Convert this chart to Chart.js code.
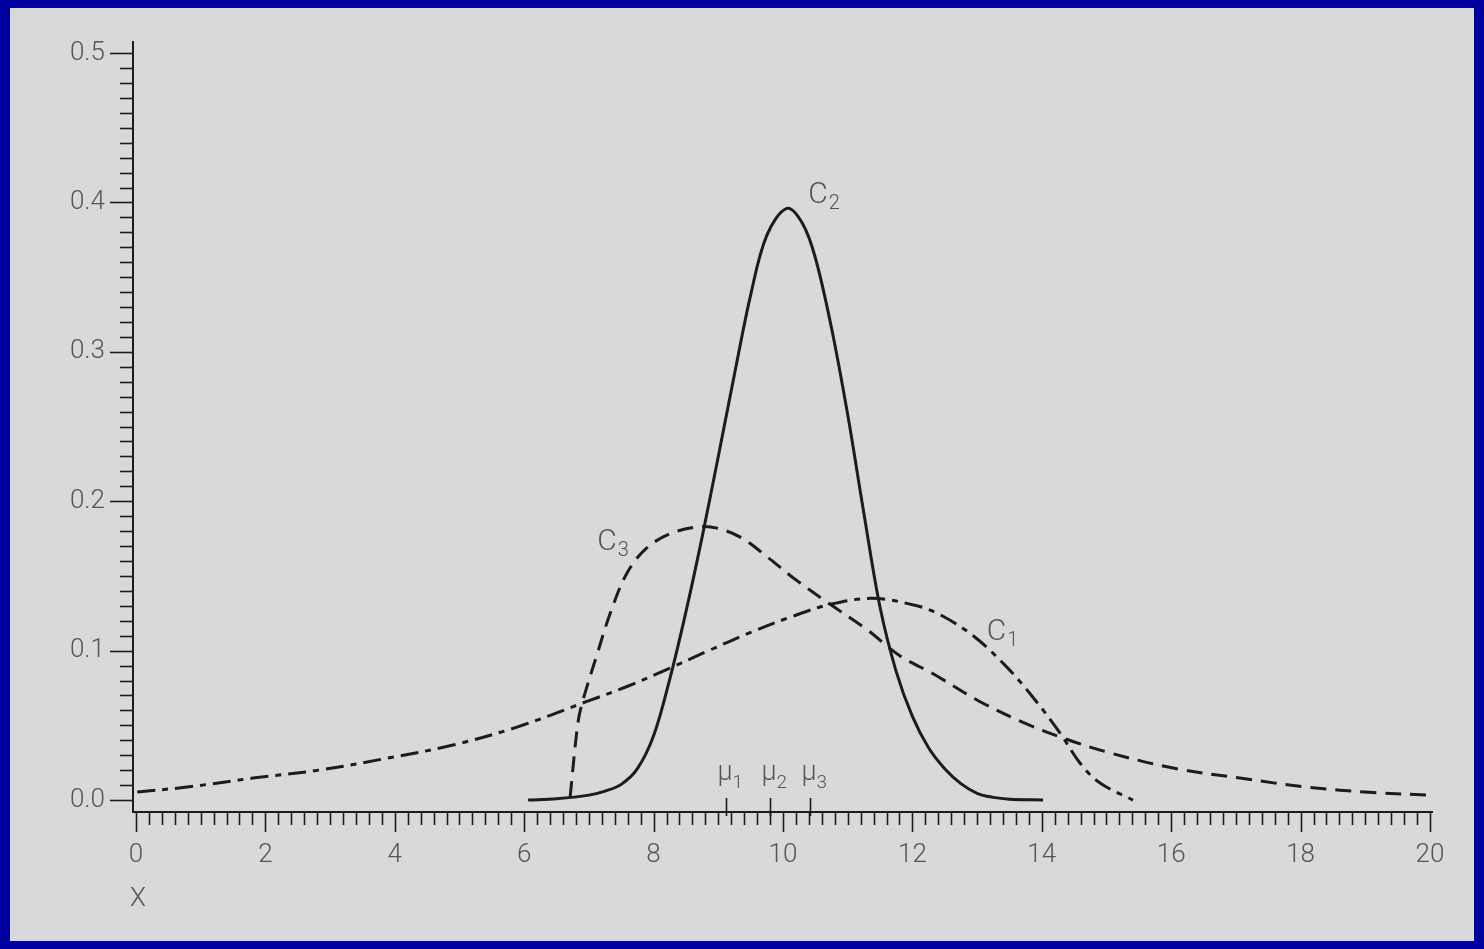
<!DOCTYPE html>
<html><head><meta charset="utf-8">
<script src="https://cdn.jsdelivr.net/npm/chart.js@4.4.0/dist/chart.umd.min.js"></script>
<style>
html,body{margin:0;padding:0;background:#0000a0;overflow:hidden}
#wrap{position:absolute;left:0;top:0;width:1484px;height:949px}
</style></head>
<body><div id="wrap"><canvas id="c" width="1484" height="949"></canvas></div>
<script>
// ---- data ----
const xTickValues = [0, 2, 4, 6, 8, 10, 12, 14, 16, 18, 20];
const xTickLabels = ['0', '2', '4', '6', '8', '10', '12', '14', '16', '18', '20'];
const yTickValues = [0, 0.1, 0.2, 0.3, 0.4, 0.5];
const yTickLabels = ['0.0', '0.1', '0.2', '0.3', '0.4', '0.5'];

const c1X = [0.02, 0.79, 1.81, 2.84, 3.88, 4.90, 5.90, 6.97, 7.59, 8.21, 8.85, 9.49, 10.15, 10.73, 11.39, 12.07, 12.43, 12.94, 13.46, 13.86, 14.28, 14.59, 14.90, 15.41];
const c1Y = [0.0054, 0.0087, 0.0147, 0.0201, 0.028, 0.0368, 0.049, 0.066, 0.076, 0.0875, 0.100, 0.112, 0.123, 0.131, 0.135, 0.130, 0.124, 0.110, 0.089, 0.069, 0.045, 0.0248, 0.0114, 0.0];

const c2X = [6.06, 6.5, 7.0, 7.25, 7.5, 7.75, 8.0, 8.25, 8.5, 8.75, 9.0, 9.25, 9.5, 9.75, 10.06, 10.3, 10.5, 10.75, 11.0, 11.25, 11.5, 11.75, 12.0, 12.25, 12.5, 12.75, 13.0, 13.25, 13.5, 14.02];
const c2Y = [0.000, 0.0009, 0.0033, 0.0060, 0.0105, 0.0210, 0.0430, 0.0810, 0.126, 0.176, 0.230, 0.285, 0.338, 0.378, 0.396, 0.386, 0.363, 0.316, 0.258, 0.192, 0.129, 0.086, 0.056, 0.035, 0.021, 0.011, 0.0045, 0.0018, 0.0006, 0.000];

const c3X = [6.71, 6.83, 6.91, 7.13, 7.33, 7.59, 7.90, 8.30, 8.72, 8.98, 9.34, 9.75, 10.15, 10.73, 11.30, 11.81, 12.32, 13.04, 13.71, 14.33, 15.01, 16.03, 17.06, 18.10, 19.12, 20.0];
const c3Y = [0.002, 0.0515, 0.067, 0.098, 0.125, 0.152, 0.169, 0.179, 0.183, 0.182, 0.176, 0.163, 0.149, 0.131, 0.114, 0.0965, 0.0845, 0.066, 0.0520, 0.0415, 0.0321, 0.0214, 0.0147, 0.0087, 0.0050, 0.0033];

const muValues = [9.12, 9.80, 10.42];
const muSubs = ['1', '2', '3'];
const curveLabelSubs = ['1', '2', '3'];

// ---- build datasets ----
const pts = (xs, ys) => xs.map((x, i) => ({x: x, y: ys[i]}));
const INK = '#1c1c1c';
const TEXT = '#555555';
const FONT = 'Roboto, "DejaVu Sans", sans-serif';

const bgPlugin = {
  id: 'bg',
  beforeDraw(chart) {
    const ctx = chart.ctx;
    ctx.save();
    ctx.fillStyle = '#0000a0';
    ctx.fillRect(0, 0, chart.width, chart.height);
    ctx.fillStyle = '#d9d9d9';
    ctx.fillRect(10, 8, 1464, 933);
    ctx.restore();
  }
};

const decoPlugin = {
  id: 'deco',
  afterDraw(chart) {
    const ctx = chart.ctx;
    const xs = chart.scales.x, ys = chart.scales.y;
    const area = chart.chartArea;
    ctx.save();
    ctx.strokeStyle = INK;
    ctx.lineWidth = 1.6;
    // x minor/major ticks
    for (let i = 0; i <= 100; i++) {
      const v = i * 0.2;
      const px = Math.round(xs.getPixelForValue(v)) + 0.5;
      const len = (i % 10 === 0) ? 20 : 13;
      ctx.beginPath();
      ctx.moveTo(px, area.bottom);
      ctx.lineTo(px, area.bottom + len);
      ctx.stroke();
    }
    // y minor/major ticks
    for (let i = 0; i <= 50; i++) {
      const v = i * 0.01;
      const py = Math.round(ys.getPixelForValue(v)) + 0.5;
      const len = (i % 10 === 0) ? 23 : 13;
      ctx.beginPath();
      ctx.moveTo(area.left - len, py);
      ctx.lineTo(area.left, py);
      ctx.stroke();
    }
    // mu ticks and labels
    muValues.forEach((m, i) => {
      const px = Math.round(xs.getPixelForValue(m)) + 0.5;
      ctx.beginPath();
      ctx.moveTo(px, area.bottom - 14);
      ctx.lineTo(px, area.bottom + 4);
      ctx.stroke();
      ctx.fillStyle = TEXT;
      ctx.textBaseline = 'alphabetic';
      ctx.textAlign = 'left';
      ctx.font = '300 27px ' + FONT;
      ctx.fillText('\u03bc', px - 9, area.bottom - 32);
      ctx.font = '300 19px ' + FONT;
      ctx.fillText(muSubs[i], px + 6, area.bottom - 24);
    });
    // curve labels C1, C2, C3
    const labels = [
      {x: 13.15, y: 0.1071, sub: curveLabelSubs[0]},
      {x: 10.39, y: 0.3996, sub: curveLabelSubs[1]},
      {x: 7.13, y: 0.1673, sub: curveLabelSubs[2]}
    ];
    labels.forEach(l => {
      const px = xs.getPixelForValue(l.x), py = ys.getPixelForValue(l.y);
      ctx.fillStyle = TEXT;
      ctx.textAlign = 'left';
      ctx.textBaseline = 'alphabetic';
      ctx.font = '300 30px ' + FONT;
      ctx.fillText('C', px, py);
      const w = ctx.measureText('C').width;
      ctx.font = '300 20px ' + FONT;
      ctx.fillText(l.sub, px + w + 1, py + 6);
    });
    // axis name X
    ctx.font = '300 26px ' + FONT;
    ctx.fillStyle = TEXT;
    ctx.textAlign = 'center';
    ctx.textBaseline = 'alphabetic';
    ctx.fillText('X', xs.getPixelForValue(0) + 2, 906);
    ctx.restore();
  }
};

new Chart(document.getElementById('c'), {
  type: 'line',
  data: {
    datasets: [
      {label: 'C1', data: pts(c1X, c1Y), borderColor: INK, borderWidth: 3, borderDash: [18, 7, 6, 7], pointRadius: 0, fill: false, tension: 0.35},
      {label: 'C2', data: pts(c2X, c2Y), borderColor: INK, borderWidth: 3, pointRadius: 0, fill: false, tension: 0.35},
      {label: 'C3', data: pts(c3X, c3Y), borderColor: INK, borderWidth: 3, borderDash: [16, 9], pointRadius: 0, fill: false, tension: 0.35}
    ]
  },
  options: {
    responsive: false,
    animation: false,
    devicePixelRatio: 1,
    layout: {padding: {left: 10, right: 52, top: 42, bottom: 0}},
    plugins: {legend: {display: false}, tooltip: {enabled: false}, title: {display: false}},
    scales: {
      x: {
        type: 'linear',
        min: -0.046, max: 20.031,
        afterBuildTicks: s => { s.ticks = xTickValues.map(v => ({value: v})); },
        afterFit: s => { s.height = 137; },
        ticks: {autoSkip: false, maxRotation: 0, padding: 8, color: TEXT,
                font: {family: FONT, size: 26, weight: '300'},
                callback: (v, i) => xTickLabels[i]},
        grid: {display: true, drawOnChartArea: false, drawTicks: true, tickLength: 20, color: 'rgba(0,0,0,0)'},
        border: {display: true, color: INK, width: 2}
      },
      y: {
        type: 'linear',
        min: -0.008, max: 0.5074,
        afterBuildTicks: s => { s.ticks = yTickValues.map(v => ({value: v})); },
        afterFit: s => { s.width = 123; },
        ticks: {autoSkip: false, padding: 5, color: TEXT,
                font: {family: FONT, size: 26, weight: '300'},
                callback: (v, i) => yTickLabels[i]},
        grid: {display: true, drawOnChartArea: false, drawTicks: true, tickLength: 23, color: 'rgba(0,0,0,0)'},
        border: {display: true, color: INK, width: 2}
      }
    }
  },
  plugins: [bgPlugin, decoPlugin]
});
</script>
</body></html>
